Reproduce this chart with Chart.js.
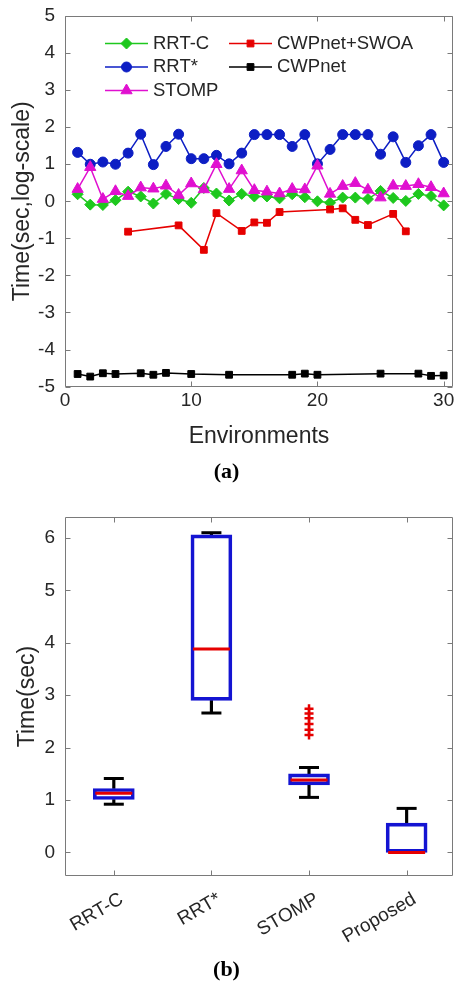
<!DOCTYPE html>
<html><head><meta charset="utf-8">
<script src="https://cdn.jsdelivr.net/npm/chart.js@4.4.1/dist/chart.umd.min.js"></script>
<style>
html,body{margin:0;padding:0;background:#fff;}
#wrap{position:relative;width:454px;height:984px;overflow:hidden;background:#fff;}
canvas{position:absolute;left:0;}
</style></head><body>
<div id="wrap">
<canvas id="ca" width="454" height="490" style="top:0"></canvas>
<canvas id="cb" width="454" height="494" style="top:490px"></canvas>
</div>
<script>
// ---------- Panel (a) data ----------
const ENVIRONMENTS = [1,2,3,4,5,6,7,8,9,10,11,12,13,14,15,16,17,18,19,20,21,22,23,24,25,26,27,28,29,30];
const RRT_C      = [0.19,-0.09,-0.10,0.03,0.26,0.13,-0.06,0.20,0.06,-0.04,0.36,0.21,0.02,0.20,0.13,0.13,0.08,0.19,0.11,0.00,-0.04,0.10,0.10,0.06,0.28,0.09,0.01,0.20,0.14,-0.11];
const RRT_STAR   = [1.32,1.00,1.06,1.00,1.30,1.81,0.99,1.48,1.81,1.15,1.15,1.24,1.01,1.30,1.80,1.80,1.80,1.48,1.80,1.01,1.40,1.80,1.80,1.80,1.27,1.74,1.05,1.50,1.80,1.05];
const STOMP      = [0.33,0.92,0.06,0.27,0.14,0.37,0.34,0.42,0.17,0.48,0.32,1.00,0.33,0.83,0.30,0.26,0.21,0.33,0.32,0.96,0.20,0.41,0.49,0.31,0.10,0.42,0.41,0.46,0.38,0.21];
const CWPNET_SWOA= [null,null,null,null,-0.82,null,null,null,-0.65,null,-1.31,-0.32,null,-0.80,-0.57,-0.58,-0.29,null,null,null,-0.22,-0.19,-0.50,-0.64,null,-0.34,-0.81,null,null,null];
const CWPNET     = [-4.66,-4.73,-4.64,-4.66,null,-4.64,-4.68,-4.63,null,-4.66,null,null,-4.68,null,null,null,null,-4.68,-4.65,-4.68,null,null,null,null,-4.65,null,null,-4.65,-4.71,-4.70];
const SERIES_NAMES = ['RRT-C','RRT*','STOMP','CWPnet+SWOA','CWPnet'];
const X_TICKS_A = [0,10,20,30];
const Y_TICKS_A = [-5,-4,-3,-2,-1,0,1,2,3,4,5];

// ---------- Panel (b) data ----------
const BOX_CATEGORIES = ['RRT-C','RRT*','STOMP','Proposed'];
const BOX_POS  = [1,2,3,4];
const BOX_MIN  = [0.92, 2.66, 1.05, 0.00];
const BOX_Q1   = [1.01, 2.90, 1.29, 0.00];
const BOX_MED  = [1.13, 3.88, 1.38, 0.00];
const BOX_Q3   = [1.22, 6.06, 1.50, 0.56];
const BOX_MAX  = [1.41, 6.10, 1.62, 0.84];
const OUTLIER_CAT = [3,3,3,3,3,3];
const OUTLIER_VAL = [2.24,2.34,2.45,2.56,2.65,2.74];
const Y_TICKS_B = [0,1,2,3,4,5,6];

// ---------- styling ----------
const FONT = '"Liberation Sans", Arial, sans-serif';
const SERIF = '"Liberation Serif", "Times New Roman", serif';
const TXT = '#262626';
const AXIS = '#7a7a7a';
Chart.defaults.font.family = FONT;
Chart.defaults.color = TXT;

const noPad = s => { s.paddingLeft = 0; s.paddingRight = 0; s.paddingTop = 0; s.paddingBottom = 0; };

const frameTicks = {
  id: 'frameTicks',
  afterDatasetsDraw(chart) {
    const {ctx, chartArea: a, scales} = chart;
    const L = Math.round(a.left) + 0.5, R = Math.round(a.right) - 0.5;
    const T = Math.round(a.top) + 0.5, B = Math.round(a.bottom) - 0.5;
    const tl = 5;
    ctx.save();
    ctx.strokeStyle = AXIS; ctx.lineWidth = 1;
    ctx.beginPath();
    ctx.rect(L, T, R - L, B - T);
    scales.x.ticks.forEach(t => {
      const px = Math.round(scales.x.getPixelForValue(t.value)) + 0.5;
      ctx.moveTo(px, B); ctx.lineTo(px, B - tl);
      ctx.moveTo(px, T); ctx.lineTo(px, T + tl);
    });
    scales.y.ticks.forEach(t => {
      const py = Math.round(scales.y.getPixelForValue(t.value)) + 0.5;
      ctx.moveTo(L, py); ctx.lineTo(L + tl, py);
      ctx.moveTo(R, py); ctx.lineTo(R - tl, py);
    });
    ctx.stroke();
    ctx.restore();
  }
};

const LEGEND_LAYOUT = {cols: [105, 229], rows: [43.5, 67, 90.5], lineLen: 43, gap: 5, perCol: 3};
const insideLegend = {
  id: 'insideLegend',
  afterDraw(chart) {
    const ctx = chart.ctx;
    chart.data.datasets.forEach((ds, k) => {
      const col = Math.floor(k / LEGEND_LAYOUT.perCol), row = k % LEGEND_LAYOUT.perCol;
      const x0 = LEGEND_LAYOUT.cols[col], y = LEGEND_LAYOUT.rows[row];
      ctx.save();
      ctx.strokeStyle = ds.borderColor; ctx.lineWidth = ds.borderWidth;
      ctx.beginPath(); ctx.moveTo(x0, y); ctx.lineTo(x0 + LEGEND_LAYOUT.lineLen, y); ctx.stroke();
      ctx.fillStyle = ds.pointBackgroundColor; ctx.strokeStyle = ds.pointBorderColor; ctx.lineWidth = 1;
      Chart.helpers.drawPoint(ctx, {pointStyle: ds.pointStyle, radius: ds.pointRadius, borderWidth: 1, rotation: 0},
                              x0 + LEGEND_LAYOUT.lineLen / 2, y);
      ctx.fillStyle = TXT; ctx.font = '18.5px ' + FONT; ctx.textBaseline = 'middle'; ctx.textAlign = 'left';
      ctx.fillText(ds.label, x0 + LEGEND_LAYOUT.lineLen + LEGEND_LAYOUT.gap, y);
      ctx.restore();
    });
  }
};

const SERIES_VALUES = [RRT_C, RRT_STAR, STOMP, CWPNET_SWOA, CWPNET];
const SERIES_COLORS = ['#1ec81e', '#0d1ec4', '#e010d0', '#e60000', '#000000'];
const SERIES_MARKERS = ['rectRot', 'circle', 'triangle', 'rect', 'rect'];
const SERIES_RADII = [5.5, 5, 6.5, 4.8, 4.8];

new Chart(document.getElementById('ca'), {
  type: 'line',
  data: {
    datasets: SERIES_NAMES.map((name, i) => ({
      label: name,
      data: ENVIRONMENTS.map((e, j) => ({x: e, y: SERIES_VALUES[i][j]})),
      borderColor: SERIES_COLORS[i],
      backgroundColor: SERIES_COLORS[i],
      pointBackgroundColor: SERIES_COLORS[i],
      pointBorderColor: SERIES_COLORS[i],
      pointStyle: SERIES_MARKERS[i],
      pointRadius: SERIES_RADII[i],
      pointBorderWidth: 1,
      borderWidth: 1.5,
      spanGaps: true,
      tension: 0,
      order: 10 - i
    }))
  },
  options: {
    responsive: false, animation: false,
    layout: {autoPadding: false, padding: {top: 16, right: 1, bottom: 0, left: 0}},
    plugins: {
      legend: {display: false}, tooltip: {enabled: false},
      title: {display: true, text: '(a)', position: 'bottom', color: '#000',
              font: {family: SERIF, size: 22, weight: 'bold'}, padding: {top: 9, bottom: 4}}
    },
    scales: {
      x: {
        type: 'linear', min: 0, max: 30.74,
        afterBuildTicks: s => { s.ticks = X_TICKS_A.map(v => ({value: v})); },
        afterFit: s => { s.height = 64; noPad(s); },
        grid: {display: false, drawTicks: false, tickLength: 0}, border: {display: false},
        ticks: {padding: 3, color: TXT, font: {size: 19}, maxRotation: 0, autoSkip: false},
        title: {display: true, text: 'Environments', color: TXT, font: {size: 23}, padding: {top: 0, bottom: 0}}
      },
      y: {
        type: 'linear', min: -5, max: 5,
        afterBuildTicks: s => { s.ticks = Y_TICKS_A.map(v => ({value: v})); },
        afterFit: s => { s.width = 65; noPad(s); },
        grid: {display: false, drawTicks: false, tickLength: 0}, border: {display: false},
        ticks: {padding: 10, color: TXT, font: {size: 19}, autoSkip: false},
        title: {display: true, text: 'Time(sec,log-scale)', color: TXT, font: {size: 23}, padding: {top: 9, bottom: 0}}
      }
    }
  },
  plugins: [frameTicks, insideLegend]
});

// ---------- Panel (b) ----------
const BOX_BLUE = '#1414d2', MED_RED = '#e60000';
new Chart(document.getElementById('cb'), {
  type: 'bar',
  data: {
    datasets: [
      { // upper whisker stems
        type: 'bar', grouped: false, order: 6,
        data: BOX_POS.map((p, i) => ({x: p, y: [BOX_Q3[i], BOX_MAX[i]]})),
        backgroundColor: '#000', borderWidth: 0, barThickness: 2.5
      },
      { // lower whisker stems
        type: 'bar', grouped: false, order: 6,
        data: BOX_POS.map((p, i) => ({x: p, y: [BOX_MIN[i], BOX_Q1[i]]})),
        backgroundColor: '#000', borderWidth: 0, barThickness: 2.5
      },
      { // whisker caps
        type: 'scatter', order: 5,
        data: BOX_POS.flatMap((p, i) => [{x: p, y: BOX_MAX[i]}, {x: p, y: BOX_MIN[i]}]),
        pointStyle: 'line', pointRadius: 10, pointBorderWidth: 3, pointBorderColor: '#000', borderColor: '#000'
      },
      { // boxes
        type: 'bar', grouped: false, order: 4,
        data: BOX_POS.map((p, i) => ({x: p, y: [BOX_Q1[i], BOX_Q3[i]]})),
        backgroundColor: 'rgba(255,255,255,0)', borderColor: BOX_BLUE, borderWidth: 3,
        borderSkipped: false, barThickness: 41
      },
      { // medians
        type: 'scatter', order: 3,
        data: BOX_POS.map((p, i) => ({x: p, y: BOX_MED[i]})),
        pointStyle: 'line', pointRadius: 18.5, pointBorderWidth: 3, pointBorderColor: MED_RED, borderColor: MED_RED
      },
      { // outliers
        type: 'scatter', order: 2,
        data: OUTLIER_CAT.map((c, i) => ({x: c, y: OUTLIER_VAL[i]})),
        pointStyle: 'cross', pointRadius: 4.5, pointBorderWidth: 2.5, pointBorderColor: MED_RED, borderColor: MED_RED
      }
    ]
  },
  options: {
    responsive: false, animation: false,
    layout: {autoPadding: false, padding: {top: 27, right: 1, bottom: 0, left: 0}},
    plugins: {
      legend: {display: false}, tooltip: {enabled: false},
      title: {display: true, text: '(b)', position: 'bottom', color: '#000',
              font: {family: SERIF, size: 22, weight: 'bold'}, padding: {top: 9, bottom: 0}}
    },
    scales: {
      x: {
        type: 'linear', min: 0.5, max: 4.475, offset: false,
        afterBuildTicks: s => { s.ticks = BOX_POS.map(v => ({value: v})); },
        afterFit: s => { s.height = 72.6; noPad(s); },
        grid: {display: false, offset: false, drawTicks: false, tickLength: 0}, border: {display: false},
        ticks: {padding: 12, labelOffset: 8, color: TXT, font: {size: 19}, minRotation: 30, maxRotation: 30, autoSkip: false,
                callback: (v, i) => BOX_CATEGORIES[i]}
      },
      y: {
        type: 'linear', min: -0.45, max: 6.4,
        afterBuildTicks: s => { s.ticks = Y_TICKS_B.map(v => ({value: v})); },
        afterFit: s => { s.width = 65; noPad(s); },
        grid: {display: false, drawTicks: false, tickLength: 0}, border: {display: false},
        ticks: {padding: 10, color: TXT, font: {size: 19}, autoSkip: false},
        title: {display: true, text: 'Time(sec)', color: TXT, font: {size: 23}, padding: {top: 14, bottom: 0}}
      }
    }
  },
  plugins: [frameTicks]
});
</script>
</body></html>
